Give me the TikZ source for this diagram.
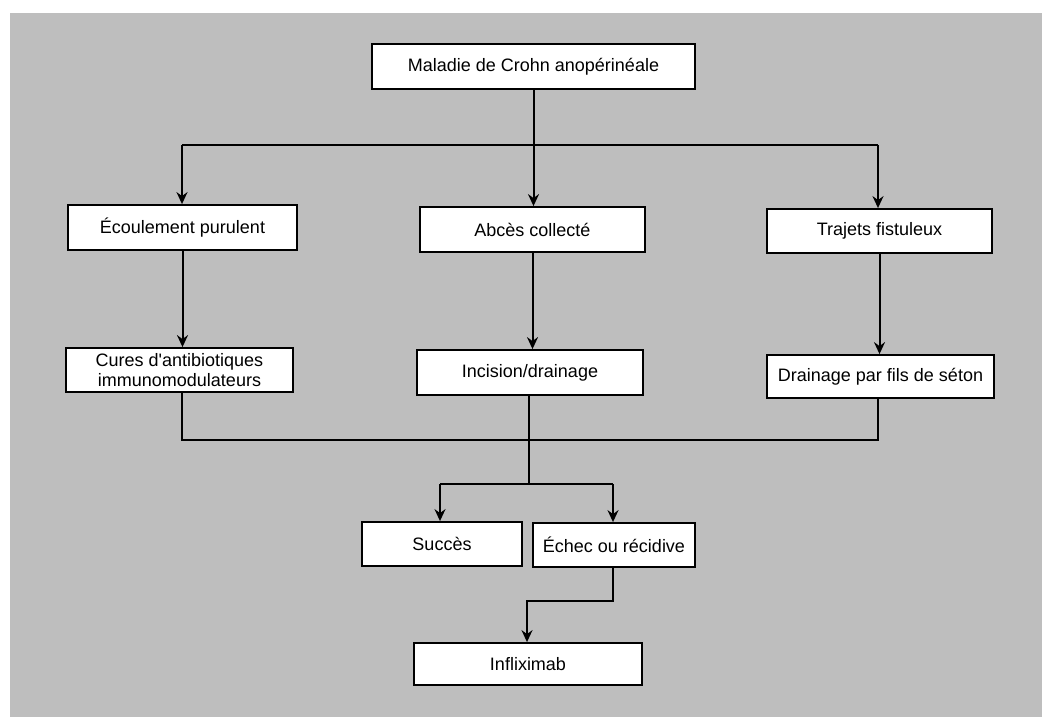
\documentclass[tikz,border=0pt]{standalone}
\usepackage{fontspec}
\setmainfont{Liberation Sans}
\usetikzlibrary{arrows.meta}
\definecolor{scan}{RGB}{190,190,190}
\tikzset{
  box/.style={draw=black, line width=1.8pt, fill=white, inner sep=0pt, align=center,
    font=\fontsize{18}{21}\selectfont},
  conn/.style={line width=2pt, draw=black},
  arr/.style={conn, -{Stealth[length=12pt,width=11pt,inset=4pt]}}
}
\begin{document}
\begin{tikzpicture}[x=1pt,y=-1pt]
\useasboundingbox (0,0) rectangle (1042,717);
\fill[white] (0,0) rectangle (1042,717);
\fill[scan] (10,13) rectangle (1042,717);

\node[box, minimum width=323pt, minimum height=45pt] (mal) at (533.5,66.5) {Maladie de Crohn anopérinéale};
\node[box, minimum width=229pt, minimum height=45pt] (eco) at (182.5,227.5) {Écoulement purulent};
\node[box, minimum width=225pt, minimum height=45pt] (abc) at (532.5,229.5) {Abcès collecté};
\node[box, minimum width=225pt, minimum height=44pt] (tra) at (879.5,231) {Trajets fistuleux};
\node[box, minimum width=227pt, minimum height=44pt, font=\fontsize{18}{20}\selectfont] (cur) at (179.5,370) {Cures d\textquotesingle antibiotiques\\immunomodulateurs};
\node[box, minimum width=226pt, minimum height=45pt] (inc) at (530,372.5) {Incision/drainage};
\node[box, minimum width=227pt, minimum height=43pt] (dra) at (880.5,376.5) {Drainage par fils de séton};
\node[box, minimum width=160pt, minimum height=44pt] (suc) at (442,544) {Succès};
\node[box, minimum width=162pt, minimum height=44pt] (ech) at (614,545) {Échec ou récidive};
\node[box, minimum width=228pt, minimum height=42pt] (inf) at (528,664) {Infliximab};

% top branching
\coordinate (b1) at (182,145);
\coordinate (b3) at (878,145);
\draw[arr] (mal.south) -- (mal.south |- abc.north);
\draw[conn] (b1) -- (b3);
\draw[arr] (b1) -- (b1 |- eco.north);
\draw[arr] (b3) -- (b3 |- tra.north);

% second level
\draw[arr] (eco.south) -- (eco.south |- cur.north);
\draw[arr] (abc.south) -- (abc.south |- inc.north);
\draw[arr] (tra.south) -- (tra.south |- dra.north);

% join
\coordinate (j1) at (182,440);
\coordinate (j3) at (878,440);
\coordinate (jm) at (529,440);
\coordinate (sp) at (529,484);
\coordinate (sl) at (440,484);
\coordinate (sr) at (613,484);
\draw[conn] (cur.south -| j1) -- (j1) -- (j3) -- (dra.south -| j3);
\draw[conn] (inc.south -| jm) -- (sp);
\draw[conn] (sl) -- (sr);
\draw[arr] (sl) -- (sl |- suc.north);
\draw[arr] (sr) -- (sr |- ech.north);

% to infliximab
\coordinate (e1) at (613,601);
\coordinate (e2) at (527,601);
\draw[arr] (ech.south -| e1) -- (e1) -- (e2) -- (e2 |- inf.north);
\end{tikzpicture}
\end{document}
